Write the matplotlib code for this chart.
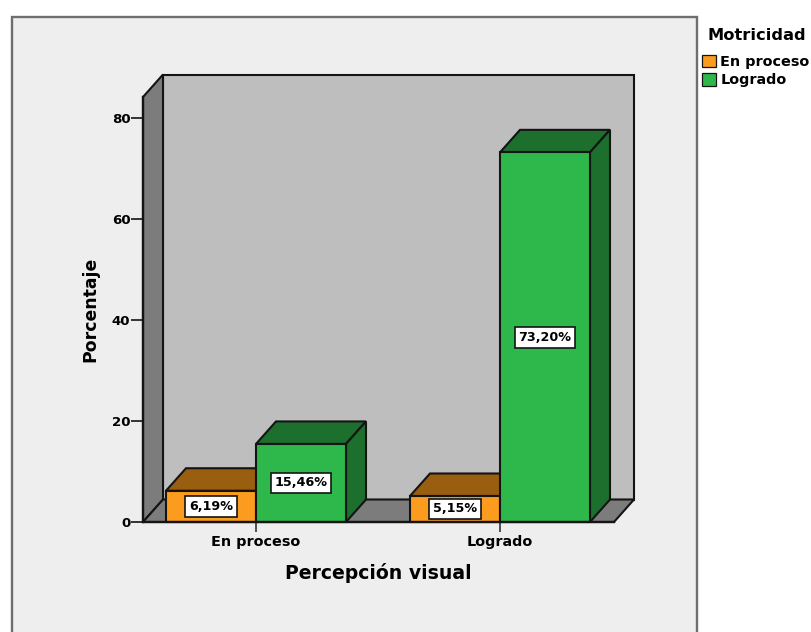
import matplotlib
matplotlib.use("Agg")
import matplotlib.pyplot as plt
from matplotlib.patches import Polygon, Rectangle, Patch

categories = ["En proceso", "Logrado"]
series_names = ["En proceso", "Logrado"]
en_proceso = [6.19, 5.15]
logrado = [15.46, 73.20]
y_ticks = [0, 20, 40, 60, 80]

FRONT = ["#fb9c1e", "#2eb84b"]
SHADE = ["#9a5e11", "#1d6f2d"]
EDGE = "#141414"
WALL = "#7c7c7c"
BACK = "#bebebe"
PANEL = "#eeeeee"

W, H = 811, 632
plt.rcParams["font.family"] = "DejaVu Sans"
plt.rcParams["font.weight"] = "bold"
fig = plt.figure(figsize=(W / 100, H / 100), dpi=100, facecolor="white")

# chart panel, open towards the bottom edge of the figure
fig.add_artist(Rectangle((11.5 / W, -0.02), 685.5 / W, 1 - 17 / H + 0.02,
                         transform=fig.transFigure, fc=PANEL, ec="#6e6e6e", lw=1.7, zorder=-1))

left, right, top, bottom = 143, 614, 97, 522
ax = fig.add_axes([left / W, 1 - bottom / H, (right - left) / W, (bottom - top) / H])
ax.patch.set_visible(False)

px_per_cat = 244.0
px_per_unit = 5.05
ax.set_xlim((left - 256) / px_per_cat, (right - 256) / px_per_cat)
ax.set_ylim(0, (bottom - top) / px_per_unit)

# depth of the 3D box and bars, in data units
dx = 20 / px_per_cat
dy = 22.5 / px_per_unit
x0, x1 = ax.get_xlim()
y1 = ax.get_ylim()[1]

def poly(points, face, z):
    ax.add_patch(Polygon(points, closed=True, fc=face, ec=EDGE, lw=1.5,
                         joinstyle="miter", clip_on=False, zorder=z))

poly([(x0 + dx, dy), (x1 + dx, dy), (x1 + dx, y1 + dy), (x0 + dx, y1 + dy)], BACK, 1)
poly([(x0, 0), (x0 + dx, dy), (x0 + dx, y1 + dy), (x0, y1)], WALL, 1.1)
poly([(x0, 0), (x1, 0), (x1 + dx, dy), (x0 + dx, dy)], WALL, 1.2)

bar_w = 90 / px_per_cat

def bar3d(xl, value, s, z):
    xr = xl + bar_w
    poly([(xl, value), (xr, value), (xr + dx, value + dy), (xl + dx, value + dy)], SHADE[s], z)
    poly([(xr, 0), (xr + dx, dy), (xr + dx, value + dy), (xr, value)], SHADE[s], z)
    poly([(xl, 0), (xr, 0), (xr, value), (xl, value)], FRONT[s], z + 0.1)
    ax.text(xl + bar_w / 2, value / 2, f"{value:.2f}%".replace(".", ","),
            ha="center", va="center", fontsize=9.2, color="black", zorder=z + 0.2,
            bbox=dict(fc="white", ec=EDGE, lw=1.2, boxstyle="square,pad=0.3"))

for i in range(len(categories)):
    bar3d(i - bar_w, en_proceso[i], 0, 3 + 2 * i)
    bar3d(i, logrado[i], 1, 4 + 2 * i)

for side in ("top", "right"):
    ax.spines[side].set_visible(False)
for side in ("left", "bottom"):
    ax.spines[side].set_linewidth(1.7)
    ax.spines[side].set_color(EDGE)
    ax.spines[side].set_zorder(20)

ax.set_yticks(y_ticks)
ax.set_xticks(range(len(categories)))
ax.set_xticklabels(categories, fontsize=10.4)
ax.tick_params(axis="y", length=8.6, width=1.2, color=EDGE, labelsize=9.6, pad=0.5)
ax.tick_params(axis="x", length=7.2, width=1.2, color="#333333", pad=2)

fig.text(378 / W, 1 - 573 / H, "Percepción visual", ha="center", va="center", fontsize=13.6)
fig.text(90 / W, 1 - 309 / H, "Porcentaje", ha="center", va="center", rotation=90, fontsize=12.4)
fig.text(757 / W, 1 - 35 / H, "Motricidad", ha="center", va="center", fontsize=11.7)

handles = [Patch(fc=FRONT[i], ec=EDGE, lw=0.9) for i in range(2)]
fig.legend(handles, series_names, loc="upper left",
           bbox_to_anchor=(702 / W, 1 - 54.5 / H), frameon=False,
           prop={"weight": "bold", "size": 10.4}, borderpad=0, borderaxespad=0,
           handlelength=0.97, handleheight=0.97, handletextpad=0.3, labelspacing=0.3)

fig.savefig("out.png", dpi=100)
